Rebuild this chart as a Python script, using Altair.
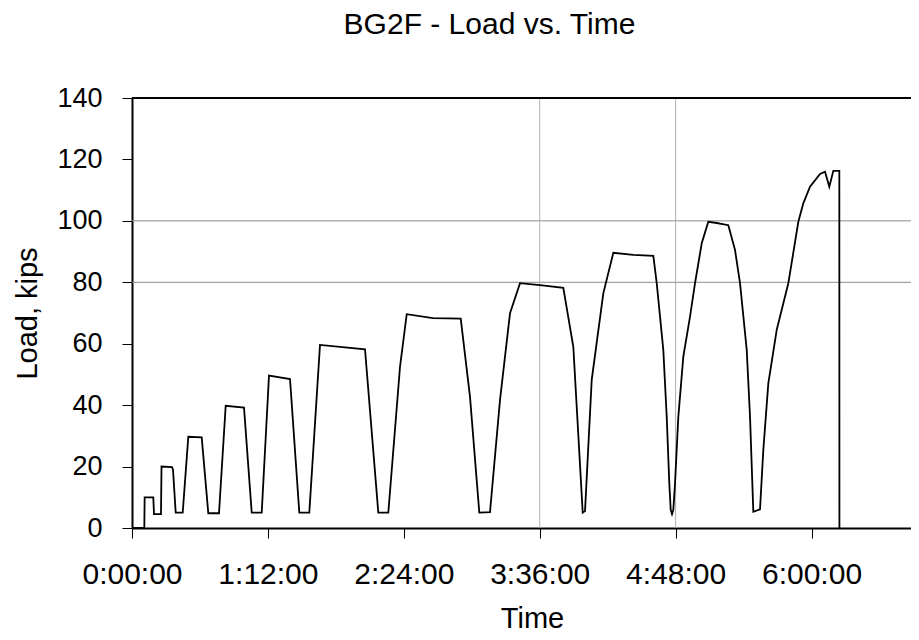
import altair as alt
import pandas as pd

# elapsed time in minutes, load in kips
time_min = [0, 6.52, 6.7, 11.28, 11.66, 15.36, 15.63, 21.19, 21.72, 23.15,
            26.86, 29.83, 36.93, 40.42, 46.09, 49.64, 59.34, 63.42, 68.72, 72.58,
            83.71, 88.64, 93.93, 99.60, 123.44, 130.49, 135.79, 141.99, 145.54, 159.47,
            174.15, 179.07, 184.0, 189.67, 194.97, 200.26, 205.56, 216.16, 228.5, 233.8,
            238.78, 240.0, 243.55, 249.69, 254.99, 265.59, 276.19, 277.99, 281.48, 283.28,
            284.66, 285.40, 286.09, 286.78, 287.68, 289.43, 292.08, 295.63, 298.28, 301.83,
            305.32, 309.77, 315.92, 319.47, 322.12, 325.67, 327.42, 329.16, 332.71, 334.46,
            337.11, 341.56, 347.71, 353.01, 355.65, 359.20, 364.5, 367.15, 369.43, 371.55,
            374.73, 374.78]
load_kips = [0, 0, 10, 10, 4.5, 4.5, 20, 19.8, 19, 5,
             5, 29.7, 29.5, 4.8, 4.8, 39.8, 39.2, 5, 5, 49.6,
             48.5, 5, 5, 59.6, 58.2, 5, 5, 52.5, 69.6, 68.3,
             68.2, 42.7, 5, 5.2, 41.7, 69.9, 79.7, 79.1, 78.2, 59,
             5, 5.5, 48.2, 76.4, 89.6, 88.9, 88.6, 79.7, 58, 36.2,
             14.5, 5.9, 4.5, 5.9, 14.5, 36.2, 55.8, 68.8, 79.7, 92.7,
             99.7, 99.3, 98.6, 90.5, 79.7, 58, 36.2, 5.3, 6.1, 25.4,
             47.1, 64.5, 79.7, 99.7, 105.7, 111.1, 115.3, 116, 111.1, 116.3,
             116.3, 0]

x_ticks = [0, 72, 144, 216, 288, 360]
y_ticks = [0, 20, 40, 60, 80, 100, 120, 140]
h_grid = [80, 100]
v_grid = [216, 288]

df = pd.DataFrame({"t": time_min, "load": load_kips, "i": list(range(len(time_min)))})

FONT = "Liberation Sans"
xscale = alt.Scale(domain=[0, 412.7], nice=False, zero=False)
yscale = alt.Scale(domain=[0, 140], nice=False)

label_expr = ("floor(datum.value/60) + ':' + (datum.value % 60 < 10 ? '0' : '') + "
              "(datum.value % 60) + ':00'")

common = dict(grid=False, domainColor="black", domainWidth=2, tickColor="black",
              tickWidth=1, tickSize=10, labelFont=FONT, titleFont=FONT,
              labelColor="black", titleColor="black", titleFontWeight="normal",
              labelOverlap=False, labelFlush=False)
xaxis = alt.Axis(values=x_ticks, labelExpr=label_expr, title="Time",
                 labelFontSize=30, titleFontSize=29, labelPadding=21, titlePadding=15,
                 titleX=400, **common)
yaxis = alt.Axis(values=y_ticks, title="Load, kips",
                 labelFontSize=27, titleFontSize=29, labelPadding=20, titlePadding=14,
                 **common)

hgrid = alt.Chart(pd.DataFrame({"y": h_grid})).mark_rule(color="#8c8c8c", strokeWidth=1).encode(
    y=alt.Y("y:Q", scale=yscale, axis=yaxis))
vgrid = alt.Chart(pd.DataFrame({"x": v_grid})).mark_rule(color="#b0b0b0", strokeWidth=1).encode(
    x=alt.X("x:Q", scale=xscale, axis=xaxis))
top = alt.Chart(pd.DataFrame({"y": [140]})).mark_rule(color="black", strokeWidth=2).encode(
    y=alt.Y("y:Q", scale=yscale, axis=yaxis))

line = alt.Chart(df).mark_line(color="black", strokeWidth=1.8, clip=True).encode(
    x=alt.X("t:Q", scale=xscale, axis=xaxis),
    y=alt.Y("load:Q", scale=yscale, axis=yaxis),
    order="i:Q",
)

chart = alt.layer(hgrid, vgrid, top, line).properties(
    width=779, height=430,
    background="white",
    autosize=alt.AutoSizeParams(type="none"),
    title=alt.TitleParams("BG2F - Load vs. Time", fontSize=30, font=FONT,
                          fontWeight="normal", color="black", dx=-32, offset=20,
                          frame="group", baseline="alphabetic"),
    padding={"left": 124, "top": 90, "right": 0, "bottom": 104},
).configure_view(stroke=None)

chart.save("out.html", embed_options={"renderer": "svg", "actions": False})
